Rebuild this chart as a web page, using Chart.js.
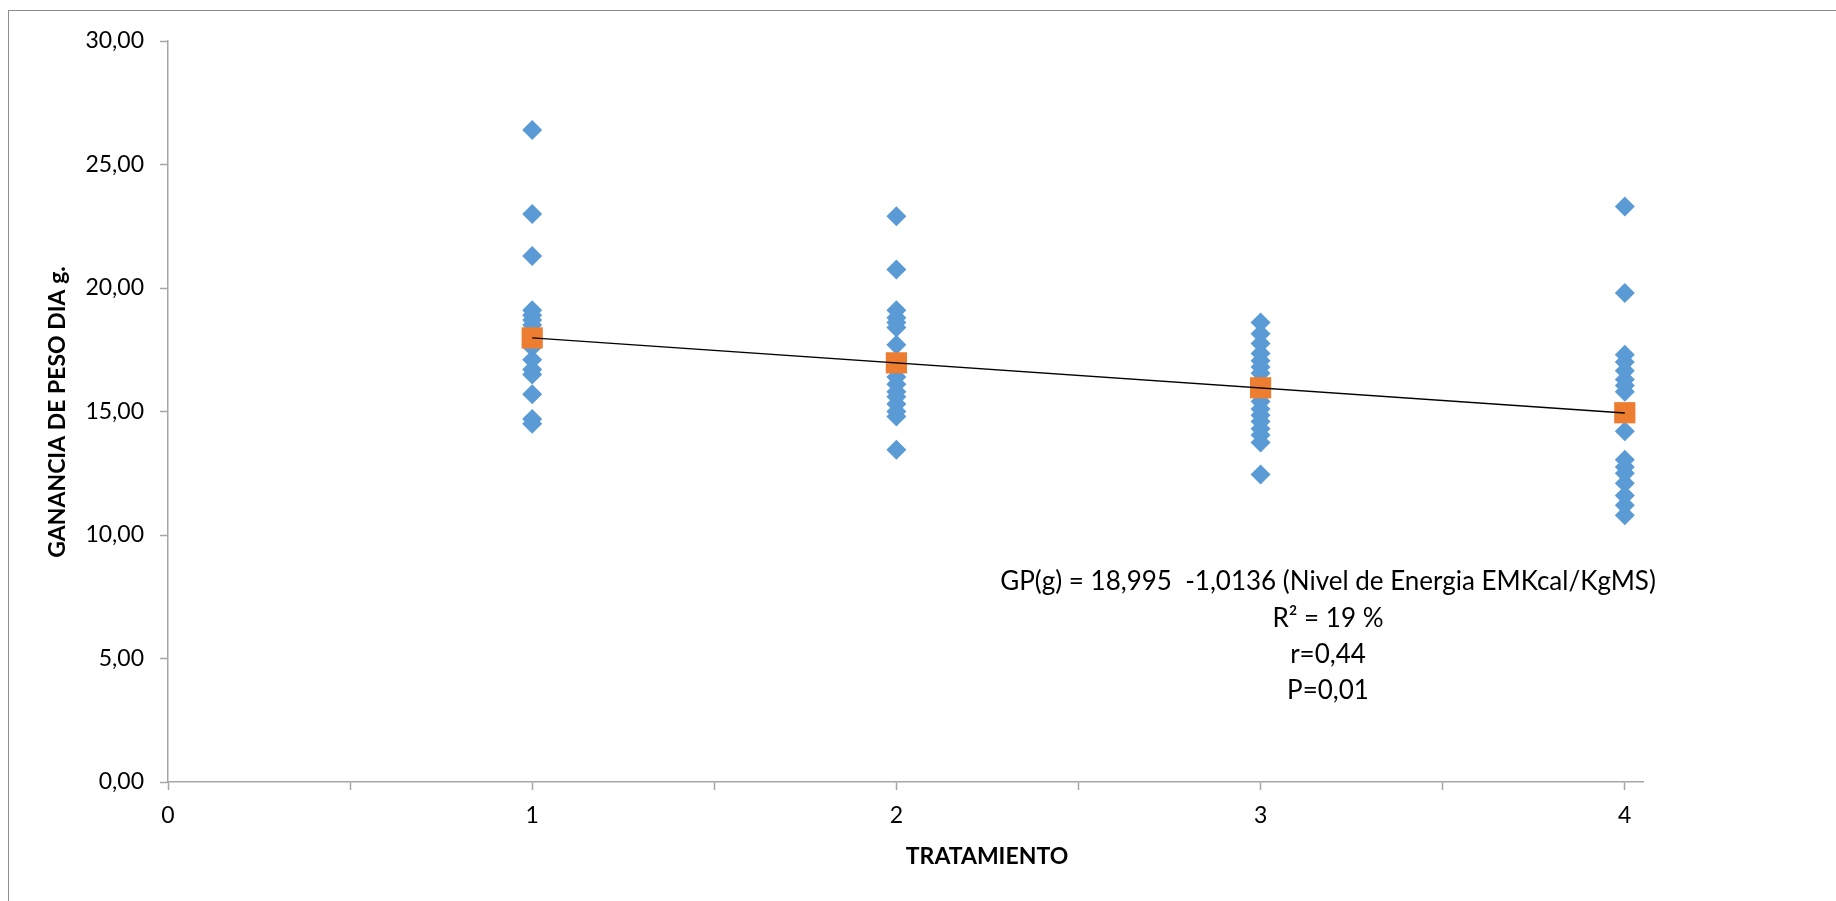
<!DOCTYPE html>
<html>
<head>
<meta charset="utf-8">
<script src="https://cdn.jsdelivr.net/npm/chart.js@4/dist/chart.umd.min.js"></script>
<style>
  html, body { margin: 0; padding: 0; background: #ffffff; }
  canvas { display: block; }
</style>
</head>
<body>
<canvas id="c" width="1836" height="901"></canvas>
<script>
// ---- data ----
const treatments = [1, 2, 3, 4];
const trt1 = [26.4, 23.0, 21.3, 19.1, 18.9, 18.7, 18.5, 17.6, 17.1, 16.7, 16.5, 15.7, 14.7, 14.5];
const trt2 = [22.9, 20.75, 19.1, 18.8, 18.6, 18.4, 17.7, 16.4, 16.1, 15.8, 15.6, 15.3, 15.0, 14.8, 13.45];
const trt3 = [18.6, 18.15, 17.75, 17.35, 17.05, 16.8, 16.55, 15.4, 15.1, 14.85, 14.6, 14.3, 14.05, 13.75, 12.45];
const trt4 = [23.3, 19.8, 17.3, 17.0, 16.65, 16.3, 16.05, 15.8, 14.2, 13.05, 12.75, 12.5, 12.1, 11.6, 11.2, 10.8];
const means = [17.98, 16.97, 15.96, 14.95];
const trendX = [1, 4];
const trendY = [17.98, 14.94];
const yTicks = [0, 5, 10, 15, 20, 25, 30];
const xLabels = ['0', '1', '2', '3', '4'];
const annotationLines = [
  'GP(g) = 18,995  -1,0136 (Nivel de Energia EMKcal/KgMS)',
  'R\u00B2 = 19 %',
  'r=0,44',
  'P=0,01'
];
const xTitle = 'TRATAMIENTO';
const yTitle = 'GANANCIA DE PESO DIA g.';

// ---- build datasets ----
const groups = [trt1, trt2, trt3, trt4];
const scatterPts = [];
groups.forEach((g, i) => g.forEach(v => scatterPts.push({ x: treatments[i], y: v })));
const meanPts = means.map((v, i) => ({ x: treatments[i], y: v }));
const trendPts = trendX.map((x, i) => ({ x: x, y: trendY[i] }));

const FONT = 'Lato, "Open Sans", sans-serif';
const AXIS_COLOR = '#a6a6a6';

const decorPlugin = {
  id: 'decor',
  beforeDraw(chart) {
    const ctx = chart.ctx;
    ctx.save();
    ctx.fillStyle = '#ffffff';
    ctx.fillRect(0, 0, chart.width, chart.height);
    ctx.strokeStyle = '#8c8c8c';
    ctx.lineWidth = 1;
    ctx.strokeRect(8.5, 10.5, 3000, 3000);
    ctx.restore();
  },
  afterDraw(chart) {
    const ctx = chart.ctx;
    ctx.save();
    ctx.fillStyle = '#000000';
    ctx.textAlign = 'center';
    ctx.textBaseline = 'middle';
    // x title
    ctx.font = 'bold 23px ' + FONT;
    ctx.fillText(xTitle, 987, 857);
    // y title
    ctx.save();
    ctx.translate(58, 412);
    ctx.rotate(-Math.PI / 2);
    ctx.fillText(yTitle, 0, 0);
    ctx.restore();
    // annotation
    ctx.font = '26px ' + FONT;
    const ys = [582, 619, 655, 691];
    annotationLines.forEach((t, i) => ctx.fillText(t, 1328, ys[i]));
    ctx.restore();
  }
};

new Chart(document.getElementById('c'), {
  type: 'scatter',
  data: {
    datasets: [
      {
        label: 'Trend',
        type: 'line',
        data: trendPts,
        borderColor: '#000000',
        borderWidth: 1.3,
        pointRadius: 0,
        fill: false,
        order: 0
      },
      {
        label: 'Media',
        data: meanPts,
        pointStyle: 'rect',
        pointRadius: 15,
        pointHoverRadius: 15,
        backgroundColor: '#ED7D31',
        borderColor: '#ED7D31',
        pointBorderWidth: 0,
        order: 1
      },
      {
        label: 'Datos',
        data: scatterPts,
        pointStyle: 'rectRot',
        pointRadius: 10,
        pointHoverRadius: 10,
        backgroundColor: '#5B9BD5',
        borderColor: '#5B9BD5',
        pointBorderWidth: 0,
        order: 2
      }
    ]
  },
  options: {
    responsive: false,
    animation: false,
    devicePixelRatio: 1,
    layout: { padding: { left: 0, top: 41, right: 193, bottom: 0 } },
    plugins: {
      legend: { display: false },
      tooltip: { enabled: false },
      title: { display: false }
    },
    scales: {
      x: {
        type: 'linear',
        min: 0,
        max: 4.05,
        afterFit(scale) { scale.height = 119; },
        border: { display: true, color: AXIS_COLOR, width: 1.5 },
        grid: {
          drawOnChartArea: false,
          drawTicks: true,
          tickLength: 8,
          color: AXIS_COLOR,
          tickWidth: 1.5
        },
        ticks: {
          stepSize: 0.5,
          includeBounds: false,
          autoSkip: false,
          maxRotation: 0,
          padding: 12,
          color: '#000000',
          font: { family: FONT, size: 23 },
          callback(v) {
            const idx = xLabels.indexOf(String(v));
            return idx >= 0 ? xLabels[idx] : '';
          }
        }
      },
      y: {
        type: 'linear',
        min: 0,
        max: 30,
        afterFit(scale) { scale.width = 168; },
        afterBuildTicks(scale) { scale.ticks = yTicks.map(v => ({ value: v })); },
        border: { display: true, color: AXIS_COLOR, width: 1.5 },
        grid: {
          drawOnChartArea: false,
          drawTicks: true,
          tickLength: 8,
          color: AXIS_COLOR,
          tickWidth: 1.5
        },
        ticks: {
          padding: 16,
          color: '#000000',
          font: { family: FONT, size: 23 },
          callback(v) { return Number(v).toFixed(2).replace('.', ','); }
        }
      }
    }
  },
  plugins: [decorPlugin]
});
</script>
</body>
</html>
